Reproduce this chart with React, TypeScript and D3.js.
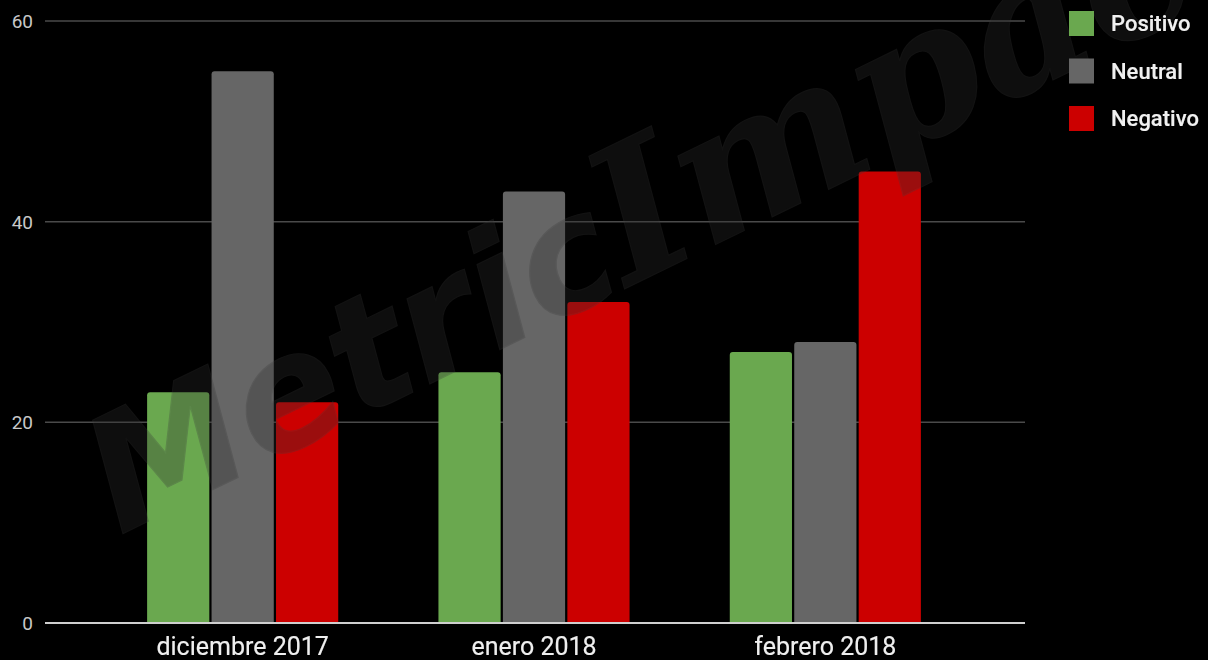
import React, { useEffect } from "react";
import * as d3 from "d3";

const categories = ["diciembre 2017", "enero 2018", "febrero 2018"];
const seriesNames = ["Positivo", "Neutral", "Negativo"];
const positivo = [23, 25, 27];
const neutral = [55, 43, 28];
const negativo = [22, 32, 45];
const yTicks = [0, 20, 40, 60];
const colors = ["#6aa84f", "#666666", "#cc0000"];

const W = 1208;
const H = 660;

export default function App() {
  useEffect(() => {
    document.body.style.margin = "0";
    document.body.style.background = "#000";
  }, []);

  const seriesValues = [positivo, neutral, negativo];
  const y = d3.scaleLinear().domain([0, 60]).range([623, 21]);
  const x0 = d3
    .scaleBand<string>()
    .domain(categories)
    .range([97, 971])
    .paddingInner(0.344)
    .paddingOuter(0.172);
  const x1 = d3
    .scaleBand<string>()
    .domain(seriesNames)
    .range([0, x0.bandwidth()])
    .paddingInner(0.035)
    .paddingOuter(0);

  const barPath = (x: number, w: number, top: number, bottom: number) => {
    const r = 3;
    const p = d3.path();
    p.moveTo(x, bottom);
    p.lineTo(x, top + r);
    p.quadraticCurveTo(x, top, x + r, top);
    p.lineTo(x + w - r, top);
    p.quadraticCurveTo(x + w, top, x + w, top + r);
    p.lineTo(x + w, bottom);
    p.closePath();
    return p.toString();
  };

  const font = "Roboto, 'Noto Sans', sans-serif";

  return (
    <div style={{ position: "absolute", left: 0, top: 0, width: W, height: H, background: "#000" }}>
      <svg width={W} height={H} style={{ display: "block" }}>
        <defs>
          <filter id="shadow" x="-10%" y="-30%" width="120%" height="160%">
            <feDropShadow dx="0" dy="0" stdDeviation="1.2" floodColor="#000" floodOpacity="1" />
          </filter>
        </defs>
        <rect x={0} y={0} width={W} height={H} fill="#000" />
        {/* grid lines */}
        {yTicks.filter((t) => t !== 0).map((t) => (
          <line key={t} x1={45} x2={1025} y1={y(t)} y2={y(t)} stroke="#4a4a4a" strokeWidth={1.5} />
        ))}
        {/* y tick labels */}
        {yTicks.map((t) => (
          <text
            key={"l" + t}
            x={33}
            y={y(t)}
            dy="0.36em"
            textAnchor="end"
            fill="#c8c8c8"
            fontFamily={font}
            fontSize={19}
          >
            {t}
          </text>
        ))}
        {/* bars */}
        {categories.map((c, ci) => (
          <g key={c}>
            {seriesNames.map((s, si) => {
              const bx = (x0(c) as number) + (x1(s) as number);
              const v = seriesValues[si][ci];
              return (
                <path key={s} d={barPath(bx, x1.bandwidth(), y(v), y(0))} fill={colors[si]} />
              );
            })}
          </g>
        ))}
        {/* baseline */}
        <line x1={45} x2={1025} y1={y(0)} y2={y(0)} stroke="#cfcfcf" strokeWidth={2} />
        {/* watermark */}
        <g transform="translate(120, 535) rotate(-26)" opacity={0.3}>
          <text fill="#2e2e2e" stroke="#3c3c3c" strokeWidth={1.2}>
            <tspan fontSize={158} fontFamily="'DejaVu Sans', sans-serif" fontStyle="italic" fontWeight="bold">Metric</tspan>
            <tspan fontSize={185} fontFamily="'DejaVu Serif', serif" fontStyle="italic" fontWeight="bold">Impact</tspan>
          </text>
        </g>
        {/* category labels */}
        {categories.map((c) => (
          <text
            key={"c" + c}
            x={(x0(c) as number) + x0.bandwidth() / 2}
            y={655}
            textAnchor="middle"
            fill="#eeeeee"
            fontFamily={font}
            fontSize={25}
            filter="url(#shadow)"
          >
            {c}
          </text>
        ))}
        {/* legend */}
        {seriesNames.map((s, i) => (
          <g key={"lg" + s} transform={`translate(1069, ${11 + i * 47.5})`}>
            <rect x={0} y={0} width={25} height={25} fill={colors[i]} />
            <text
              x={42}
              y={12.5}
              dy="0.36em"
              fill="#f0f0f0"
              fontFamily={font}
              fontWeight={500}
              fontSize={22}
              filter="url(#shadow)"
            >
              {s}
            </text>
          </g>
        ))}
      </svg>
    </div>
  );
}
